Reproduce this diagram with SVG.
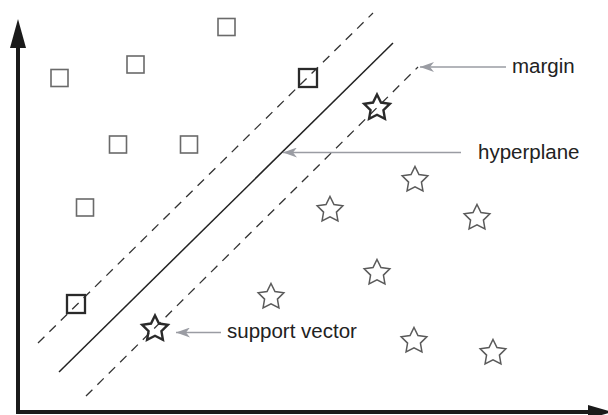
<svg xmlns="http://www.w3.org/2000/svg" width="608" height="415" viewBox="0 0 608 415">
<style>
.sq{fill:none;stroke:#6a6a6a;stroke-width:1.6}
.sqb{fill:none;stroke:#2a2a2a;stroke-width:2.3}
.st{fill:none;stroke:#5a5a5a;stroke-width:1.5;stroke-linejoin:miter}
.stb{fill:none;stroke:#2a2a2a;stroke-width:2.4;stroke-linejoin:miter}
.dash{fill:none;stroke:#333;stroke-width:1.3;stroke-dasharray:9 7}
.solid{fill:none;stroke:#222;stroke-width:1.5}
.ptr{fill:none;stroke:#9a9ca3;stroke-width:1.6}
.lbl{font-family:"Liberation Sans",Arial,sans-serif;font-size:20.5px;fill:#222}
</style>
<defs>
<path id="star" d="M0,-13.5 L3.97,-5.46 L12.84,-4.17 L6.42,2.09 L7.94,10.92 L0,6.75 L-7.94,10.92 L-6.42,2.09 L-12.84,-4.17 L-3.97,-5.46 Z"/>
<marker id="gh" viewBox="0 0 14 10" refX="14" refY="5" markerWidth="14" markerHeight="10" markerUnits="userSpaceOnUse" orient="auto">
<path d="M14,5 L0,0 L4,5 L0,10 Z" fill="#9a9ca3"/>
</marker>
</defs>
<g id="axes">
<line x1="18" y1="44" x2="18" y2="414" stroke="#1a1a1a" stroke-width="4"/>
<polygon points="18,19 10,48 26,48" fill="#1a1a1a"/>
<line x1="16" y1="412" x2="592" y2="412" stroke="#1a1a1a" stroke-width="4"/>
<polygon points="588,405 612,412 588,419" fill="#1a1a1a"/>
</g>
<g id="connectors">
<line class="dash" x1="38" y1="343" x2="373" y2="13"/>
<line class="solid" x1="59" y1="372" x2="393" y2="43"/>
<line class="dash" x1="86" y1="396" x2="418" y2="67"/>
<line class="ptr" x1="506" y1="67" x2="420" y2="67" marker-end="url(#gh)"/>
<line class="ptr" x1="461" y1="152.5" x2="283" y2="152.5" marker-end="url(#gh)"/>
<line class="ptr" x1="221" y1="332.5" x2="176" y2="332.5" marker-end="url(#gh)"/>
</g>
<g id="squares">
<rect class="sq" x="51" y="69.5" width="17" height="17"/>
<rect class="sq" x="127" y="56" width="17" height="17"/>
<rect class="sq" x="218" y="18.5" width="17" height="17"/>
<rect class="sq" x="109.5" y="136" width="17" height="17"/>
<rect class="sq" x="180.5" y="136" width="17" height="17"/>
<rect class="sq" x="76.5" y="199" width="17" height="17"/>
</g>
<g id="support-square-1"><rect class="sqb" x="299" y="69" width="18" height="18"/></g>
<g id="support-square-2"><rect class="sqb" x="67" y="295" width="18" height="18"/></g>
<g id="stars">
<use href="#star" class="st" x="415" y="180"/>
<use href="#star" class="st" x="330" y="210"/>
<use href="#star" class="st" x="477" y="218"/>
<use href="#star" class="st" x="377" y="273"/>
<use href="#star" class="st" x="271" y="297"/>
<use href="#star" class="st" x="414" y="341"/>
<use href="#star" class="st" x="493" y="353"/>
</g>
<g id="support-star-1"><use href="#star" class="stb" x="377" y="108"/></g>
<g id="support-star-2"><use href="#star" class="stb" x="155" y="329"/></g>
<g id="label-margin"><text class="lbl" x="512" y="73">margin</text></g>
<g id="label-hyperplane"><text class="lbl" x="478" y="159">hyperplane</text></g>
<g id="label-support"><text class="lbl" x="227" y="338">support vector</text></g>
</svg>
